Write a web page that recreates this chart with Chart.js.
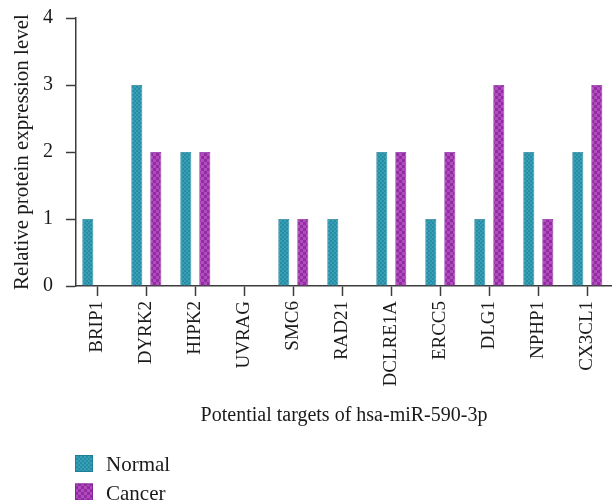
<!DOCTYPE html>
<html>
<head>
<meta charset="utf-8">
<script src="https://cdn.jsdelivr.net/npm/chart.js@4"></script>
<style>
  html, body { margin: 0; padding: 0; background: #fff; }
  #wrap { width: 612px; height: 500px; position: relative; }
</style>
</head>
<body>
<div id="wrap"><canvas id="chart" width="612" height="500"></canvas></div>
<script>
// Potential targets of hsa-miR-590-3p and their relative protein expression
const categories = ['BRIP1', 'DYRK2', 'HIPK2', 'UVRAG', 'SMC6', 'RAD21', 'DCLRE1A', 'ERCC5', 'DLG1', 'NPHP1', 'CX3CL1'];
const normalValues = [1, 3, 2, 0, 1, 1, 2, 1, 1, 2, 2];
const cancerValues = [0, 2, 2, 0, 1, 0, 2, 2, 3, 1, 3];
const yTicks = [0, 1, 2, 3, 4];
const seriesNames = ['Normal', 'Cancer'];

const FONT = "'Liberation Serif', 'DejaVu Serif', serif";
const AXIS = '#3c3c3c';

// Checkerboard fill used by the bars and the legend swatches
function checker(base, light, cell) {
  const c = document.createElement('canvas');
  c.width = c.height = cell * 2;
  const g = c.getContext('2d');
  g.fillStyle = base; g.fillRect(0, 0, cell * 2, cell * 2);
  g.fillStyle = light;
  g.fillRect(0, 0, cell, cell);
  g.fillRect(cell, cell, cell, cell);
  return g.createPattern(c, 'repeat');
}
const ctx = document.getElementById('chart').getContext('2d');
const tealFill = checker('#238ea5', '#3a9fb4', 2);
const purpleFill = checker('#922ca2', '#b24bbd', 3);

const toPoints = vals => vals.map((v, i) => ({ x: i, y: v }));

// Two-row legend below the axis title
const stackedLegend = {
  id: 'stackedLegend',
  afterDraw(chart) {
    const g = chart.ctx;
    const rows = chart.data.datasets;
    g.save();
    rows.forEach((ds, i) => {
      const top = 455 + i * 28.5;
      g.fillStyle = ds.backgroundColor;
      g.fillRect(75, top, 18, 17);
      g.strokeStyle = ds.borderColor;
      g.lineWidth = 1;
      g.strokeRect(75.5, top + 0.5, 17, 16);
      g.fillStyle = '#1a1a1a';
      g.font = "21px " + FONT;
      g.textAlign = 'left';
      g.textBaseline = 'alphabetic';
      g.fillText(ds.label, 106, top + 16);
    });
    g.restore();
  }
};

new Chart(ctx, {
  type: 'bar',
  data: {
    datasets: [
      {
        label: seriesNames[0],
        data: toPoints(normalValues),
        backgroundColor: tealFill,
        borderColor: '#1f7f94',
        borderWidth: 0.8
      },
      {
        label: seriesNames[1],
        data: toPoints(cancerValues),
        backgroundColor: purpleFill,
        borderColor: '#86279a',
        borderWidth: 0.8
      }
    ]
  },
  options: {
    responsive: false,
    animation: false,
    categoryPercentage: 0.7755,
    barPercentage: 0.58,
    layout: { padding: { top: 18, right: 0, bottom: 68, left: 0 } },
    plugins: {
      legend: { display: false },
      tooltip: { enabled: false }
    },
    scales: {
      x: {
        type: 'linear',
        offset: false,
        min: -0.435,
        max: 10.504,
        afterFit(scale) {
          scale.height = 146;
          scale.paddingLeft = scale.paddingRight = scale.paddingTop = scale.paddingBottom = 0;
        },
        afterBuildTicks(scale) { scale.ticks = categories.map((_, i) => ({ value: i })); },
        grid: { offset: false, drawOnChartArea: false, drawTicks: true, tickLength: 10, tickColor: AXIS, tickWidth: 1.5 },
        border: { display: true, color: AXIS, width: 1.5 },
        ticks: {
          autoSkip: false,
          minRotation: 90,
          maxRotation: 90,
          padding: 5,
          color: '#1a1a1a',
          font: { family: FONT, size: 19 },
          callback: v => categories[v] ?? ''
        },
        title: {
          display: true,
          text: 'Potential targets of hsa-miR-590-3p',
          color: '#1a1a1a',
          font: { family: FONT, size: 20 },
          padding: { top: 0, bottom: 4 }
        }
      },
      y: {
        min: 0,
        max: 4,
        afterFit(scale) {
          scale.width = 76;
          scale.paddingLeft = scale.paddingRight = scale.paddingTop = scale.paddingBottom = 0;
        },
        afterBuildTicks(scale) { scale.ticks = yTicks.map(v => ({ value: v })); },
        grid: { drawOnChartArea: false, drawTicks: true, tickLength: 10, tickColor: AXIS, tickWidth: 1.5 },
        border: { display: true, color: AXIS, width: 1.5 },
        ticks: {
          padding: 13,
          color: '#1a1a1a',
          font: { family: FONT, size: 20 }
        },
        title: {
          display: true,
          text: 'Relative protein expression level',
          color: '#1a1a1a',
          font: { family: FONT, size: 21 },
          padding: { top: 10, bottom: 0 }
        }
      }
    }
  },
  plugins: [stackedLegend]
});
</script>
</body>
</html>
